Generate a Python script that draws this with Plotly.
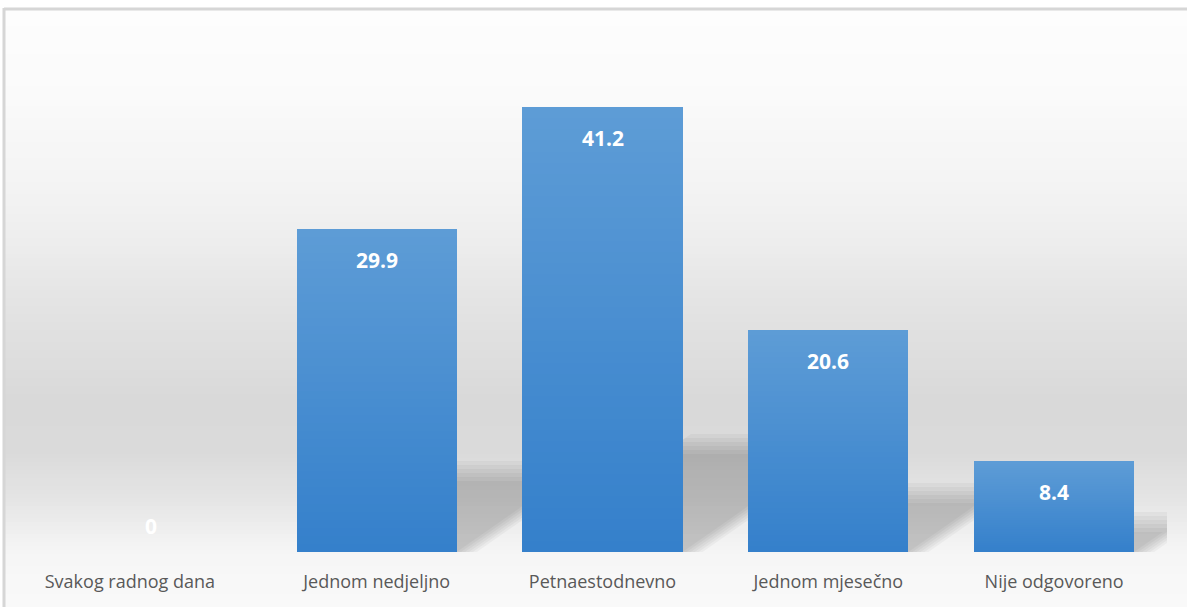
import plotly.graph_objects as go

# ---- data ----
categories = ["Svakog radnog dana", "Jednom nedjeljno", "Petnaestodnevno",
              "Jednom mjesečno", "Nije odgovoreno"]
values = [0, 29.9, 41.2, 20.6, 8.4]

# ---- layout constants ----
W, H = 1187, 607
ML, MR, MT, MB = 38, 20, 60, 55
PW, PH = W - ML - MR, H - MT - MB
PX_PER_Y = 10.8
YMAX = PH / PX_PER_Y
N = len(categories)
PX_PER_X = PW / N
BAR_W = 0.71

BAR_TOP = (93, 156, 214)
BAR_BOT = (53, 128, 203)


def px2paper_x(px):
    return (px - ML) / PW


def px2paper_y(py):
    return (H - MB - py) / PH


def lerp(c1, c2, t):
    return tuple(round(a + (b - a) * t) for a, b in zip(c1, c2))


fig = go.Figure()

# gradient bars: stacked overlays from bottom (dark) to top (light)
NL = 40
xs = list(range(N))
for k in range(NL):
    t = k / (NL - 1)
    c = lerp(BAR_BOT, BAR_TOP, t)
    fig.add_trace(go.Bar(
        x=xs,
        y=[v - v * k / NL for v in values],
        base=[v * k / NL for v in values],
        width=BAR_W,
        marker=dict(color="rgb(%d,%d,%d)" % c, line=dict(width=0)),
        hoverinfo="skip",
        showlegend=False,
        cliponaxis=False,
    ))

shapes = []

# background gradient (paper coords)
stops = [(10, 253), (100, 250), (200, 242), (250, 236), (300, 228), (400, 217),
         (450, 218), (500, 229), (550, 245), (580, 248), (607, 249)]


def gray_at(py):
    for (y0, g0), (y1, g1) in zip(stops[:-1], stops[1:]):
        if y0 <= py <= y1:
            return g0 + (g1 - g0) * (py - y0) / (y1 - y0)
    return stops[-1][1]


step = 4
py = 10
while py < H:
    g = round(gray_at(py + step / 2))
    shapes.append(dict(type="rect", xref="paper", yref="paper", layer="below",
                       x0=px2paper_x(5), x1=px2paper_x(W + 2),
                       y0=px2paper_y(py), y1=px2paper_y(min(py + step + 1, H + 2)),
                       fillcolor="rgb(%d,%d,%d)" % (g, g, g), line=dict(width=0)))
    py += step

# frame lines
shapes.append(dict(type="line", xref="paper", yref="paper", layer="below",
                   x0=px2paper_x(4), x1=px2paper_x(W + 2),
                   y0=px2paper_y(9), y1=px2paper_y(9),
                   line=dict(color="#d6d6d6", width=3)))
shapes.append(dict(type="line", xref="paper", yref="paper", layer="below",
                   x0=px2paper_x(4), x1=px2paper_x(4),
                   y0=px2paper_y(8), y1=px2paper_y(H + 2),
                   line=dict(color="#d6d6d6", width=3)))

# soft perspective shadows derived from each bar's value
SLOPE = 1.43  # horizontal px per vertical px
for i, v in enumerate(values):
    if v <= 0:
        continue
    hpx = v * PX_PER_Y
    hs = 0.22 * hpx + 6
    xl = i - BAR_W / 2
    xr = i + BAR_W / 2
    for e in [14, 10, 6, 2, -2, -6]:
        top = max(hs + e, 2)
        dx = top * SLOPE
        r0 = xr + (6 + e) / PX_PER_X
        path = "M %.4f,0 L %.4f,0 L %.4f,%.4f L %.4f,%.4f Z" % (
            xl, r0, r0 + dx / PX_PER_X, top / PX_PER_Y,
            xl + dx / PX_PER_X, top / PX_PER_Y)
        shapes.append(dict(type="path", xref="x", yref="y", layer="below",
                           path=path, fillcolor="rgba(0,0,0,0.035)",
                           line=dict(width=0)))

# value labels
annotations = []
for i, v in enumerate(values):
    annotations.append(dict(
        x=i, y=v, xref="x", yref="y", text=f"{v:g}", showarrow=False,
        yanchor="middle", yshift=-31 if v > 0 else 26,
        font=dict(family="Open Sans", size=21, color="white", weight="bold"),
    ))

# tick positions: first label is pulled inward to stay inside the chart frame
tick_pos = [float(i) for i in xs]
tick_pos[0] -= 21 / PX_PER_X

fig.update_layout(
    width=W, height=H,
    margin=dict(l=ML, r=MR, t=MT, b=MB),
    paper_bgcolor="white",
    plot_bgcolor="rgba(0,0,0,0)",
    barmode="overlay",
    bargap=0,
    shapes=shapes,
    annotations=annotations,
    showlegend=False,
    xaxis=dict(range=[-0.5, N - 0.5], tickmode="array", tickvals=tick_pos,
               ticktext=categories, showgrid=False, zeroline=False,
               showline=False, ticks="", ticklabelstandoff=17,
               tickfont=dict(family="Open Sans", size=18, color="#595959"),
               fixedrange=True),
    yaxis=dict(range=[0, YMAX], visible=False, showgrid=False,
               zeroline=False, fixedrange=True),
)

fig.write_html("out.html")
